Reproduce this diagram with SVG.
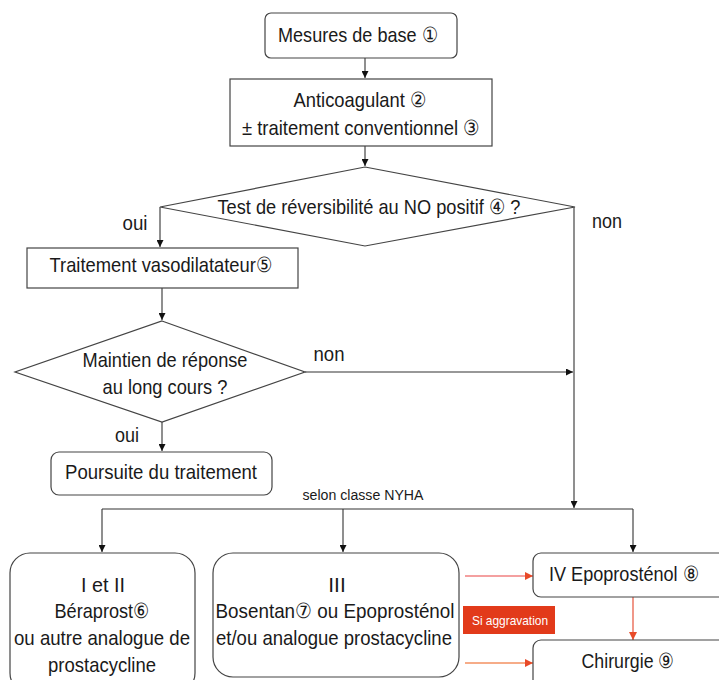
<svg xmlns="http://www.w3.org/2000/svg" width="719" height="680" viewBox="0 0 719 680">
<defs>
<style>
.box{fill:#fff;stroke:#444;stroke-width:1.2}
.t{font-family:"Liberation Sans Narrow","Liberation Sans",Arial,sans-serif;font-size:21px;fill:#1a1a1a;text-anchor:middle}
.s{font-family:"Liberation Sans Narrow","Liberation Sans",Arial,sans-serif;font-size:14px;fill:#1a1a1a;text-anchor:middle}
.c{fill:none;stroke:#333;stroke-width:1.1}
.r1{fill:none;stroke:#f08080;stroke-width:1.3}
.r2{fill:none;stroke:#f39060;stroke-width:1.3}
.r3{fill:none;stroke:#e8604a;stroke-width:1.3}
</style>
<marker id="ah" viewBox="0 0 10 10" refX="10" refY="5" markerWidth="7" markerHeight="7" markerUnits="userSpaceOnUse" orient="auto"><path d="M0,0 L10,5 L0,10 z" fill="#111"/></marker>
<marker id="ahr" viewBox="0 0 10 10" refX="10" refY="5" markerWidth="8" markerHeight="8" markerUnits="userSpaceOnUse" orient="auto"><path d="M0,0 L10,5 L0,10 z" fill="#e84a28"/></marker>
</defs>
<rect width="719" height="680" fill="#fff"/>

<g id="connectors">
<path class="c" d="M365,58 V78" marker-end="url(#ah)"/>
<path class="c" d="M365,146 V166" marker-end="url(#ah)"/>
<path class="c" d="M160,207 V247" marker-end="url(#ah)"/>
<path class="c" d="M574,207 V508" marker-end="url(#ah)"/>
<path class="c" d="M162,287 V320" marker-end="url(#ah)"/>
<path class="c" d="M305,372 H573" marker-end="url(#ah)"/>
<path class="c" d="M162,422 V451" marker-end="url(#ah)"/>
<path class="c" d="M102,509 H633"/>
<path class="c" d="M102,509 V552" marker-end="url(#ah)"/>
<path class="c" d="M343,509 V552" marker-end="url(#ah)"/>
<path class="c" d="M633,509 V552" marker-end="url(#ah)"/>
<path class="r1" d="M465,576 H533" marker-end="url(#ahr)"/>
<path class="r2" d="M465,663 H533" marker-end="url(#ahr)"/>
<path class="r3" d="M633,597 V640" marker-end="url(#ahr)"/>
</g>

<g id="n1">
<rect class="box" x="265" y="13" width="192" height="45" rx="6"/>
<text class="t" x="358" y="42" textLength="160" lengthAdjust="spacingAndGlyphs">Mesures de base ①</text>
</g>

<g id="n2">
<rect class="box" x="230" y="79" width="262" height="67"/>
<text class="t" x="360" y="107" textLength="133" lengthAdjust="spacingAndGlyphs">Anticoagulant ②</text>
<text class="t" x="361" y="135" textLength="238" lengthAdjust="spacingAndGlyphs">± traitement conventionnel ③</text>
</g>

<g id="d1">
<polygon class="box" points="365,167 575,207 365,246 160,207"/>
<text class="t" x="369" y="214" textLength="303" lengthAdjust="spacingAndGlyphs">Test de réversibilité au NO positif ④ ?</text>
</g>

<g id="labels">
<text class="t" x="135" y="230" textLength="25" lengthAdjust="spacingAndGlyphs">oui</text>
<text class="t" x="607" y="228" textLength="30" lengthAdjust="spacingAndGlyphs">non</text>
<text class="t" x="329" y="361" textLength="31" lengthAdjust="spacingAndGlyphs">non</text>
<text class="t" x="127" y="442" textLength="24" lengthAdjust="spacingAndGlyphs">oui</text>
<text class="s" x="363" y="500" textLength="121" lengthAdjust="spacingAndGlyphs">selon classe NYHA</text>
</g>

<g id="n3">
<rect class="box" x="27" y="248" width="271" height="40"/>
<text class="t" x="161" y="272" textLength="223" lengthAdjust="spacingAndGlyphs">Traitement vasodilatateur⑤</text>
</g>

<g id="d2">
<polygon class="box" points="162,321 305,372 162,422 15,372"/>
<text class="t" x="165" y="367" textLength="165" lengthAdjust="spacingAndGlyphs">Maintien de réponse</text>
<text class="t" x="165" y="394" textLength="125" lengthAdjust="spacingAndGlyphs">au long cours ?</text>
</g>

<g id="n4">
<rect class="box" x="51" y="452" width="221" height="43" rx="8"/>
<text class="t" x="161" y="479" textLength="192" lengthAdjust="spacingAndGlyphs">Poursuite du traitement</text>
</g>

<g id="n5">
<rect class="box" x="10" y="553" width="185" height="140" rx="20"/>
<text class="t" x="103" y="592" textLength="44" lengthAdjust="spacingAndGlyphs">I et II</text>
<text class="t" x="102" y="618" textLength="95" lengthAdjust="spacingAndGlyphs">Béraprost⑥</text>
<text class="t" x="102" y="645" textLength="176" lengthAdjust="spacingAndGlyphs">ou autre analogue de</text>
<text class="t" x="102" y="672" textLength="108" lengthAdjust="spacingAndGlyphs">prostacycline</text>
</g>

<g id="n6">
<rect class="box" x="213" y="553" width="246" height="124" rx="20"/>
<text class="t" x="337" y="592">III</text>
<text class="t" x="335" y="618" textLength="239" lengthAdjust="spacingAndGlyphs">Bosentan⑦ ou Epoprosténol</text>
<text class="t" x="334" y="645" textLength="236" lengthAdjust="spacingAndGlyphs">et/ou analogue prostacycline</text>
</g>

<g id="n7">
<path class="box" d="M722,553 H541 A8,8 0 0 0 533,561 V589 A8,8 0 0 0 541,597 H722"/>
<text class="t" x="624" y="581" textLength="150" lengthAdjust="spacingAndGlyphs">IV Epoprosténol ⑧</text>
</g>

<g id="n8">
<path class="box" d="M722,640 H541 A8,8 0 0 0 533,648 V690"/>
<text class="t" x="628" y="668" textLength="93" lengthAdjust="spacingAndGlyphs">Chirurgie ⑨</text>
</g>

<g id="n9">
<rect x="463" y="606" width="92" height="28" fill="#e23a1a"/>
<text x="510" y="625" font-family="Liberation Sans Narrow,Liberation Sans,Arial,sans-serif" font-size="13" fill="#fff" text-anchor="middle" textLength="76" lengthAdjust="spacingAndGlyphs">Si aggravation</text>
</g>
</svg>
